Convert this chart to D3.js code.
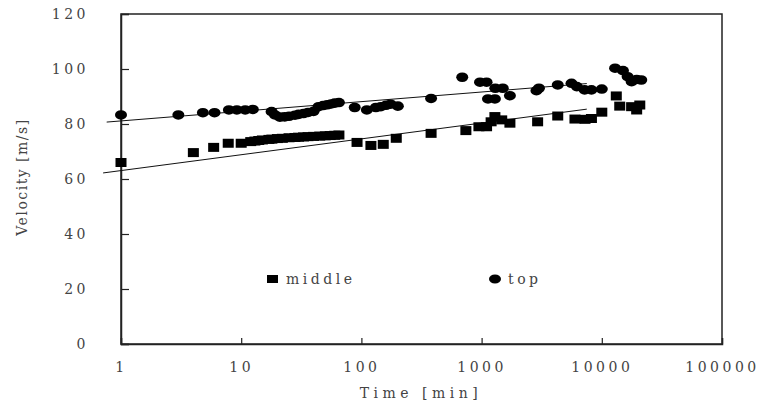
<!DOCTYPE html>
<html>
<head>
<meta charset="utf-8">
<script src="https://cdn.jsdelivr.net/npm/d3@7"></script>
<style>
  body { margin: 0; background: #fff; }
</style>
</head>
<body>
<div id="chart"></div>
<script>
// data
const midT = [1, 4, 5.9, 7.8, 10, 12, 13, 14, 15, 17, 18, 20, 22, 25, 28, 30, 33, 36, 40, 45, 50, 55, 60, 65,
  92, 120, 152, 195, 380, 740, 950, 1100, 1200, 1290, 1470, 1720, 2925, 4300, 5980, 7250, 8200, 10000,
  13200, 14100, 17700, 19500, 20700];
const midV = [66, 69.6, 71.5, 73, 73, 73.6, 73.8, 74, 74.2, 74.4, 74.5, 74.7, 74.8, 75, 75.1, 75.2, 75.3, 75.4, 75.5, 75.6, 75.7, 75.8, 75.9, 76,
  73.3, 72.2, 72.6, 74.8, 76.6, 77.6, 79, 79, 80.8, 82.7, 81.5, 80.3, 80.8, 82.9, 81.8, 81.7, 82, 84.3,
  90.2, 86.5, 86.3, 85.1, 86.9];

const topT = [1, 3, 4.8, 6, 7.9, 9.2, 10.8, 12.5, 17.9, 19.1, 21, 23, 25, 28, 30, 33, 36, 40, 44, 48, 52, 56, 60, 65,
  88, 111, 132, 145, 160, 175, 201, 380, 690, 970, 1100, 1130, 1290, 1300, 1500, 1720, 2860, 3000, 4300,
  5600, 6200, 7200, 8200, 10000, 12900, 15000, 16400, 17700, 19500, 21300];
const topV = [83.3, 83.3, 84.1, 84.1, 85.1, 85.1, 85.1, 85.3, 84.5, 83.3, 82.5, 82.6, 82.8, 83.2, 83.5, 83.8, 84.2, 84.6, 86.3, 86.7, 87, 87.3, 87.6, 87.8,
  86, 85.1, 86, 86.3, 86.8, 87.2, 86.5, 89.3, 97, 95.2, 95.2, 89.1, 89.1, 93, 93, 90.3, 92.1, 93, 94.2,
  94.8, 93.6, 92.4, 92.4, 92.7, 100.3, 99.4, 97.2, 95.4, 96.2, 96];

// trend lines (end points)
const trendMidT = [0.71, 7500];
const trendMidV = [62.2, 85.4];
const trendTopT = [0.76, 7500];
const trendTopV = [80.7, 94.7];

const xTicks = [1, 10, 100, 1000, 10000, 100000];
const yTicks = [0, 20, 40, 60, 80, 100, 120];

const FONT = '"DejaVu Serif", "Liberation Serif", serif';
const INK = "#444";

const W = 760, H = 405;
const margin = { top: 14, right: 38, bottom: 61, left: 121 };
const width = W - margin.left - margin.right;
const height = H - margin.top - margin.bottom;

const svg = d3.select("#chart").append("svg")
  .attr("width", W).attr("height", H);
const g = svg.append("g")
  .attr("transform", `translate(${margin.left},${margin.top})`);

const x = d3.scaleLog().domain([1, 100000]).range([0, width]);
const y = d3.scaleLinear().domain([0, 120]).range([height, 0]);

function label(sel, spacing) {
  return sel.style("font-family", FONT)
    .attr("font-size", 14)
    .attr("letter-spacing", spacing)
    .attr("fill", INK);
}

// frame
g.append("rect")
  .attr("width", width).attr("height", height)
  .attr("fill", "none").attr("stroke", "#222").attr("stroke-width", 1.5);

// axes, ticks pointing inward
const xAxis = g.append("g")
  .attr("transform", `translate(0,${height})`)
  .call(d3.axisBottom(x).tickValues(xTicks).tickFormat(d3.format("d")).tickSize(-6).tickPadding(18));
const yAxis = g.append("g")
  .call(d3.axisLeft(y).tickValues(yTicks).tickSize(-8).tickPadding(36));

[xAxis, yAxis].forEach(a => {
  a.attr("font-family", null);
  a.select(".domain").attr("stroke", "#222").attr("stroke-width", 1.5);
  a.selectAll(".tick line").attr("stroke", "#222").attr("stroke-width", 1.2);
  label(a.selectAll(".tick text"), 3.5);
});
yAxis.selectAll(".tick text").attr("text-anchor", "end").attr("x", -32);

// trend lines
const line = d3.line().x(d => x(d[0])).y(d => y(d[1]));
[[trendMidT, trendMidV], [trendTopT, trendTopV]].forEach(([ts, vs]) => {
  g.append("path")
    .datum(ts.map((t, i) => [t, vs[i]]))
    .attr("d", line)
    .attr("fill", "none")
    .attr("stroke", "#111")
    .attr("stroke-width", 1);
});

// markers
const sqW = 11, sqH = 9;
g.selectAll(".mid").data(midT.map((t, i) => [t, midV[i]]))
  .enter().append("rect")
  .attr("x", d => x(d[0]) - sqW / 2)
  .attr("y", d => y(d[1]) - sqH / 2)
  .attr("width", sqW).attr("height", sqH)
  .attr("fill", "#000");

g.selectAll(".top").data(topT.map((t, i) => [t, topV[i]]))
  .enter().append("ellipse")
  .attr("cx", d => x(d[0]))
  .attr("cy", d => y(d[1]))
  .attr("rx", 6).attr("ry", 4.8)
  .attr("fill", "#000");

// legend
svg.append("rect").attr("x", 267).attr("y", 275).attr("width", 11).attr("height", 8).attr("fill", "#000");
label(svg.append("text").attr("x", 286).attr("y", 284).text("middle"), 3.5);
svg.append("ellipse").attr("cx", 495).attr("cy", 279).attr("rx", 6).attr("ry", 4.5).attr("fill", "#000");
label(svg.append("text").attr("x", 508).attr("y", 284).text("top"), 3.5);

// axis titles
label(svg.append("text"), 4.5)
  .attr("x", 421).attr("y", 398)
  .attr("text-anchor", "middle")
  .text("Time [min]");
label(svg.append("text"), 1.5)
  .attr("transform", "translate(27,177) rotate(-90)")
  .attr("text-anchor", "middle")
  .text("Velocity [m/s]");
</script>
</body>
</html>
